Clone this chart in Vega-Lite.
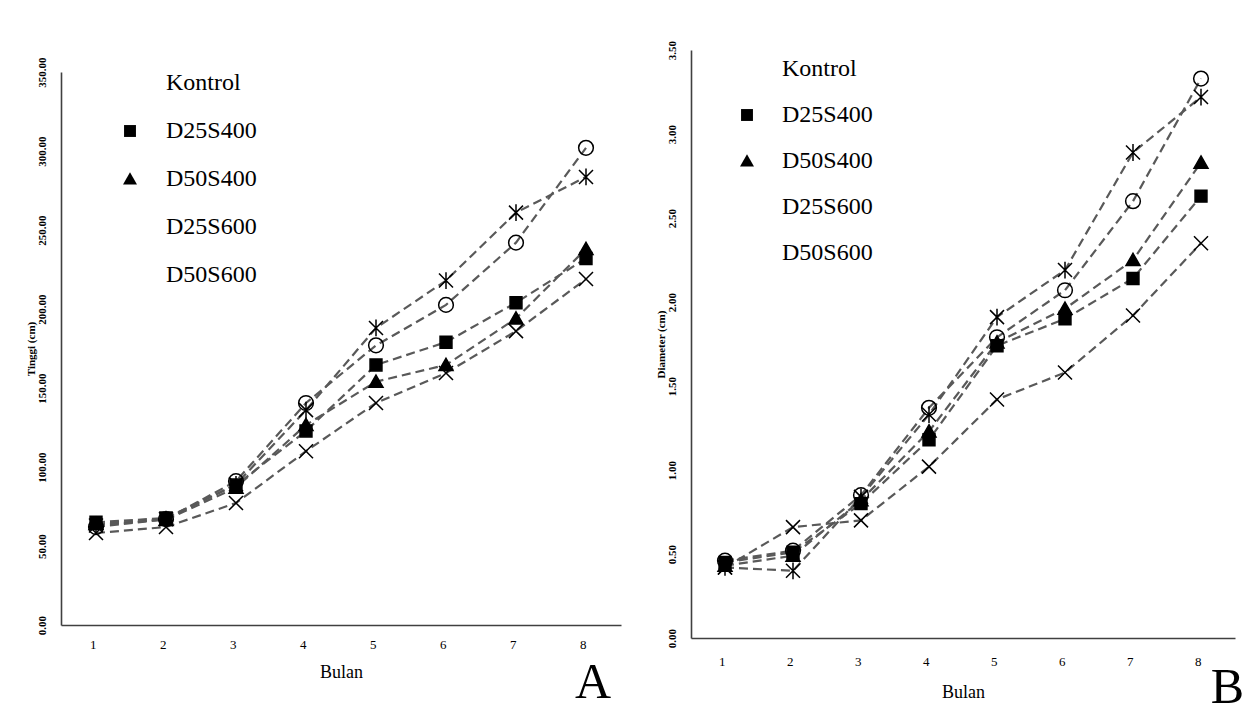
{
  "$schema": "https://vega.github.io/schema/vega-lite/v6.json",
  "background": "white",
  "padding": {"left": 25, "top": 40, "right": 0, "bottom": 0},
  "spacing": 33,
  "columns": 2,
  "resolve": {"scale": {"shape": "independent", "fill": "independent"}, "legend": {"shape": "independent", "fill": "independent"}},
  "datasets": {
    "tinggi": [
      {"bulan": 1, "perlakuan": "Kontrol", "tinggi": 58.2},
      {"bulan": 2, "perlakuan": "Kontrol", "tinggi": 62.0},
      {"bulan": 3, "perlakuan": "Kontrol", "tinggi": 77.2},
      {"bulan": 4, "perlakuan": "Kontrol", "tinggi": 110.0},
      {"bulan": 5, "perlakuan": "Kontrol", "tinggi": 140.5},
      {"bulan": 6, "perlakuan": "Kontrol", "tinggi": 159.5},
      {"bulan": 7, "perlakuan": "Kontrol", "tinggi": 186.0},
      {"bulan": 8, "perlakuan": "Kontrol", "tinggi": 219.0},
      {"bulan": 1, "perlakuan": "D25S400", "tinggi": 65.0},
      {"bulan": 2, "perlakuan": "D25S400", "tinggi": 67.7},
      {"bulan": 3, "perlakuan": "D25S400", "tinggi": 88.6},
      {"bulan": 4, "perlakuan": "D25S400", "tinggi": 122.8},
      {"bulan": 5, "perlakuan": "D25S400", "tinggi": 164.6},
      {"bulan": 6, "perlakuan": "D25S400", "tinggi": 179.0},
      {"bulan": 7, "perlakuan": "D25S400", "tinggi": 204.0},
      {"bulan": 8, "perlakuan": "D25S400", "tinggi": 232.0},
      {"bulan": 1, "perlakuan": "D50S400", "tinggi": 64.0},
      {"bulan": 2, "perlakuan": "D50S400", "tinggi": 66.5},
      {"bulan": 3, "perlakuan": "D50S400", "tinggi": 87.0},
      {"bulan": 4, "perlakuan": "D50S400", "tinggi": 126.6},
      {"bulan": 5, "perlakuan": "D50S400", "tinggi": 154.0},
      {"bulan": 6, "perlakuan": "D50S400", "tinggi": 164.6},
      {"bulan": 7, "perlakuan": "D50S400", "tinggi": 194.0},
      {"bulan": 8, "perlakuan": "D50S400", "tinggi": 238.0},
      {"bulan": 1, "perlakuan": "D25S600", "tinggi": 63.0},
      {"bulan": 2, "perlakuan": "D25S600", "tinggi": 67.0},
      {"bulan": 3, "perlakuan": "D25S600", "tinggi": 89.0},
      {"bulan": 4, "perlakuan": "D25S600", "tinggi": 136.0},
      {"bulan": 5, "perlakuan": "D25S600", "tinggi": 188.0},
      {"bulan": 6, "perlakuan": "D25S600", "tinggi": 218.0},
      {"bulan": 7, "perlakuan": "D25S600", "tinggi": 261.0},
      {"bulan": 8, "perlakuan": "D25S600", "tinggi": 283.6},
      {"bulan": 1, "perlakuan": "D50S600", "tinggi": 62.0},
      {"bulan": 2, "perlakuan": "D50S600", "tinggi": 67.0},
      {"bulan": 3, "perlakuan": "D50S600", "tinggi": 91.0},
      {"bulan": 4, "perlakuan": "D50S600", "tinggi": 140.5},
      {"bulan": 5, "perlakuan": "D50S600", "tinggi": 177.0},
      {"bulan": 6, "perlakuan": "D50S600", "tinggi": 202.6},
      {"bulan": 7, "perlakuan": "D50S600", "tinggi": 242.0},
      {"bulan": 8, "perlakuan": "D50S600", "tinggi": 302.0}
    ],
    "diameter": [
      {"bulan": 1, "perlakuan": "Kontrol", "diameter": 0.42},
      {"bulan": 2, "perlakuan": "Kontrol", "diameter": 0.66},
      {"bulan": 3, "perlakuan": "Kontrol", "diameter": 0.70},
      {"bulan": 4, "perlakuan": "Kontrol", "diameter": 1.02},
      {"bulan": 5, "perlakuan": "Kontrol", "diameter": 1.42},
      {"bulan": 6, "perlakuan": "Kontrol", "diameter": 1.58},
      {"bulan": 7, "perlakuan": "Kontrol", "diameter": 1.92},
      {"bulan": 8, "perlakuan": "Kontrol", "diameter": 2.35},
      {"bulan": 1, "perlakuan": "D25S400", "diameter": 0.45},
      {"bulan": 2, "perlakuan": "D25S400", "diameter": 0.51},
      {"bulan": 3, "perlakuan": "D25S400", "diameter": 0.80},
      {"bulan": 4, "perlakuan": "D25S400", "diameter": 1.18},
      {"bulan": 5, "perlakuan": "D25S400", "diameter": 1.74},
      {"bulan": 6, "perlakuan": "D25S400", "diameter": 1.90},
      {"bulan": 7, "perlakuan": "D25S400", "diameter": 2.14},
      {"bulan": 8, "perlakuan": "D25S400", "diameter": 2.63},
      {"bulan": 1, "perlakuan": "D50S400", "diameter": 0.43},
      {"bulan": 2, "perlakuan": "D50S400", "diameter": 0.49},
      {"bulan": 3, "perlakuan": "D50S400", "diameter": 0.82},
      {"bulan": 4, "perlakuan": "D50S400", "diameter": 1.23},
      {"bulan": 5, "perlakuan": "D50S400", "diameter": 1.76},
      {"bulan": 6, "perlakuan": "D50S400", "diameter": 1.96},
      {"bulan": 7, "perlakuan": "D50S400", "diameter": 2.25},
      {"bulan": 8, "perlakuan": "D50S400", "diameter": 2.83},
      {"bulan": 1, "perlakuan": "D25S600", "diameter": 0.42},
      {"bulan": 2, "perlakuan": "D25S600", "diameter": 0.40},
      {"bulan": 3, "perlakuan": "D25S600", "diameter": 0.84},
      {"bulan": 4, "perlakuan": "D25S600", "diameter": 1.33},
      {"bulan": 5, "perlakuan": "D25S600", "diameter": 1.91},
      {"bulan": 6, "perlakuan": "D25S600", "diameter": 2.19},
      {"bulan": 7, "perlakuan": "D25S600", "diameter": 2.89},
      {"bulan": 8, "perlakuan": "D25S600", "diameter": 3.22},
      {"bulan": 1, "perlakuan": "D50S600", "diameter": 0.46},
      {"bulan": 2, "perlakuan": "D50S600", "diameter": 0.52},
      {"bulan": 3, "perlakuan": "D50S600", "diameter": 0.85},
      {"bulan": 4, "perlakuan": "D50S600", "diameter": 1.37},
      {"bulan": 5, "perlakuan": "D50S600", "diameter": 1.79},
      {"bulan": 6, "perlakuan": "D50S600", "diameter": 2.07},
      {"bulan": 7, "perlakuan": "D50S600", "diameter": 2.60},
      {"bulan": 8, "perlakuan": "D50S600", "diameter": 3.33}
    ]
  },
  "concat": [
    {
      "width": 560,
      "height": 575,
      "data": {"name": "tinggi"},
      "title": {"text": "A", "orient": "bottom", "anchor": "end", "frame": "group", "fontSize": 50, "font": "Liberation Serif", "fontWeight": "normal", "color": "black", "offset": -23, "dx": -10},
      "layer": [
        {
          "mark": {"type": "line", "stroke": "#595959", "strokeWidth": 2.2, "strokeDash": [9, 5]},
          "encoding": {
            "x": {"field": "bulan", "type": "ordinal", "scale": {"type": "point", "padding": 0.5}},
            "y": {"field": "tinggi", "type": "quantitative", "scale": {"domain": [0, 350], "range": [575, 22]}},
            "detail": {"field": "perlakuan"}
          }
        },
        {
          "mark": {"type": "point", "stroke": "black", "strokeWidth": 1.5, "opacity": 1, "size": 196},
          "encoding": {
            "x": {"field": "bulan", "type": "ordinal", "scale": {"type": "point", "padding": 0.5},
              "axis": {"orient": "bottom", "title": "Bulan", "labelAngle": 0, "labelPadding": 19, "labelFontSize": 13, "titleFontSize": 18, "titleFontWeight": "normal", "titlePadding": 12}},
            "y": {"field": "tinggi", "type": "quantitative", "scale": {"domain": [0, 350], "range": [575, 22]},
              "axis": {"title": "Tinggi (cm)", "values": [0, 50, 100, 150, 200, 250, 300, 350], "format": ".2f", "labelAngle": 270, "labelAlign": "center", "labelBaseline": "bottom", "labelFlush": true, "labelPadding": 14, "labelFontSize": 11, "labelFontWeight": "bold", "titleFontSize": 11, "titleFontWeight": "bold", "titlePadding": 0}},
            "stroke": {"value": "black"},
            "shape": {"field": "perlakuan", "type": "nominal",
              "scale": {"domain": ["Kontrol", "D25S400", "D50S400", "D25S600", "D50S600"], "range": ["M-1,-1L1,1M-1,1L1,-1", "M-0.85,-0.85H0.85V0.85H-0.85Z", "M0,-0.95L1,0.8H-1Z", "M-1,-1L1,1M-1,1L1,-1M0,-1.2L0,1.2", "M-1.05,0A1.05,1.05,0,1,0,1.05,0A1.05,1.05,0,1,0,-1.05,0Z"]},
              "legend": {
                "orient": "none", "legendX": 57, "legendY": 21, "title": null, "padding": 0,
                "symbolSize": 196, "symbolStrokeWidth": 1.5, "symbolStrokeColor": "black", "labelOffset": 24, "rowPadding": 24,
                "labelFont": "Liberation Serif", "labelFontSize": 24, "labelColor": "black",
                "encode": {"symbols": {"stroke": {"value": "black"}, "strokeWidth": {"value": 1.5}}}
              }},
            "fill": {"field": "perlakuan", "type": "nominal",
              "scale": {"domain": ["Kontrol", "D25S400", "D50S400", "D25S600", "D50S600"], "range": ["transparent", "black", "black", "transparent", "transparent"]},
              "legend": {
                "orient": "none", "legendX": 57, "legendY": 21, "title": null, "padding": 0,
                "symbolSize": 196, "symbolStrokeWidth": 1.5, "symbolStrokeColor": "black", "labelOffset": 24, "rowPadding": 24,
                "labelFont": "Liberation Serif", "labelFontSize": 24, "labelColor": "black",
                "encode": {"symbols": {"stroke": {"value": "black"}, "strokeWidth": {"value": 1.5}}}
              }}
          }
        }
      ]
    },
    {
      "width": 544,
      "height": 588,
      "data": {"name": "diameter"},
      "title": {"text": "B", "orient": "bottom", "anchor": "end", "frame": "group", "fontSize": 50, "font": "Liberation Serif", "fontWeight": "normal", "color": "black", "offset": -38, "dx": 9},
      "layer": [
        {
          "mark": {"type": "line", "stroke": "#595959", "strokeWidth": 2.2, "strokeDash": [9, 5]},
          "encoding": {
            "x": {"field": "bulan", "type": "ordinal", "scale": {"type": "point", "padding": 0.5}},
            "y": {"field": "diameter", "type": "quantitative", "scale": {"domain": [0, 3.5]}},
            "detail": {"field": "perlakuan"}
          }
        },
        {
          "mark": {"type": "point", "stroke": "black", "strokeWidth": 1.5, "opacity": 1, "size": 196},
          "encoding": {
            "x": {"field": "bulan", "type": "ordinal", "scale": {"type": "point", "padding": 0.5},
              "axis": {"orient": "bottom", "title": "Bulan", "labelAngle": 0, "labelPadding": 23, "labelFontSize": 13, "titleFontSize": 18, "titleFontWeight": "normal", "titlePadding": 15}},
            "y": {"field": "diameter", "type": "quantitative", "scale": {"domain": [0, 3.5]},
              "axis": {"title": "Diameter (cm)", "values": [0, 0.5, 1, 1.5, 2, 2.5, 3, 3.5], "format": ".2f", "labelAngle": 270, "labelAlign": "center", "labelBaseline": "bottom", "labelFlush": true, "labelPadding": 14, "labelFontSize": 11, "labelFontWeight": "bold", "titleFontSize": 11, "titleFontWeight": "bold", "titlePadding": 0}},
            "stroke": {"value": "black"},
            "shape": {"field": "perlakuan", "type": "nominal",
              "scale": {"domain": ["Kontrol", "D25S400", "D50S400", "D25S600", "D50S600"], "range": ["M-1,-1L1,1M-1,1L1,-1", "M-0.85,-0.85H0.85V0.85H-0.85Z", "M0,-0.95L1,0.8H-1Z", "M-1,-1L1,1M-1,1L1,-1M0,-1.2L0,1.2", "M-1.05,0A1.05,1.05,0,1,0,1.05,0A1.05,1.05,0,1,0,-1.05,0Z"]},
              "legend": {
                "orient": "none", "legendX": 44, "legendY": 7, "title": null, "padding": 0,
                "symbolSize": 196, "symbolStrokeWidth": 1.5, "symbolStrokeColor": "black", "labelOffset": 23, "rowPadding": 22,
                "labelFont": "Liberation Serif", "labelFontSize": 24, "labelColor": "black",
                "encode": {"symbols": {"stroke": {"value": "black"}, "strokeWidth": {"value": 1.5}}}
              }},
            "fill": {"field": "perlakuan", "type": "nominal",
              "scale": {"domain": ["Kontrol", "D25S400", "D50S400", "D25S600", "D50S600"], "range": ["transparent", "black", "black", "transparent", "transparent"]},
              "legend": {
                "orient": "none", "legendX": 44, "legendY": 7, "title": null, "padding": 0,
                "symbolSize": 196, "symbolStrokeWidth": 1.5, "symbolStrokeColor": "black", "labelOffset": 23, "rowPadding": 22,
                "labelFont": "Liberation Serif", "labelFontSize": 24, "labelColor": "black",
                "encode": {"symbols": {"stroke": {"value": "black"}, "strokeWidth": {"value": 1.5}}}
              }}
          }
        }
      ]
    }
  ],
  "config": {
    "view": {"stroke": null},
    "legend": {"labelFont": "Liberation Serif", "symbolStrokeColor": "black"},
    "axis": {"grid": false, "ticks": false, "domainColor": "#404040", "domainWidth": 1.6, "labelFont": "Liberation Serif", "titleFont": "Liberation Serif", "labelColor": "black", "titleColor": "black"}
  }
}
